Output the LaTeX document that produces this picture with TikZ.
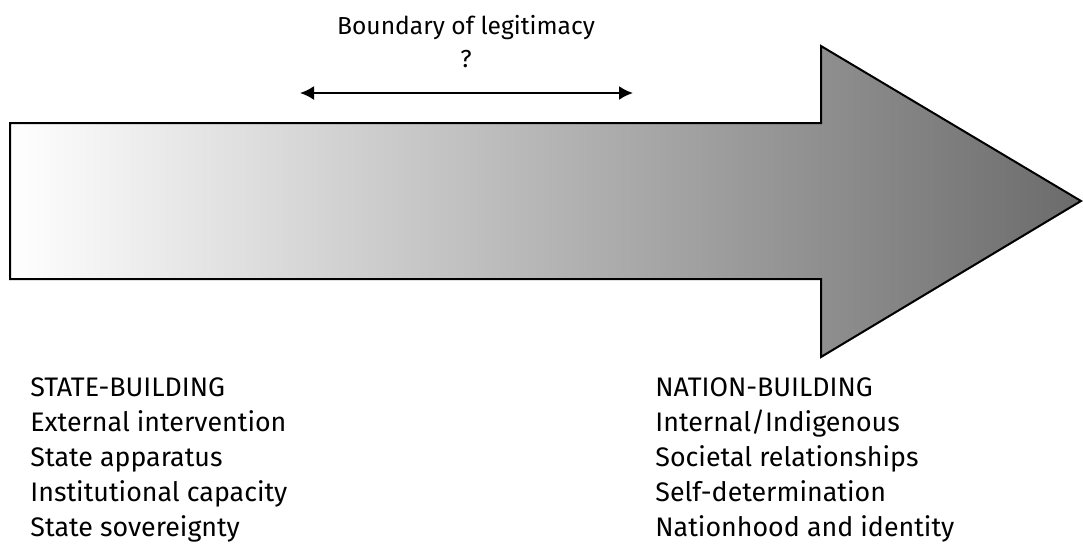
\documentclass[tikz,border=0pt]{standalone}
\usepackage{fontspec}
\setmainfont{Fira Sans}
\usetikzlibrary{arrows.meta, positioning}

\begin{document}
\begin{tikzpicture}[x=0.5pt, y=-0.5pt,
	label text/.style={inner sep=0pt, align=left,
		font=\fontsize{13.4}{17.6}\selectfont},
	top text/.style={inner sep=0pt,
		font=\fontsize{12.3}{15}\selectfont}]

\useasboundingbox (0,0) rectangle (1083,543);

% Add the big shaded arrow
\path[draw=black,
		line width=1pt,
		line join=miter,
		left color=white,
		right color=black!58]
	(10,123) -- (821,123) -- (821,46) -- (1081,201)
	-- (821,357) -- (821,279) -- (10,279) -- cycle;

% Add the boundary label and its arrow
\node[top text, anchor=base] (bound) at (466,34) {Boundary of legitimacy};
\node[top text, anchor=base] (qmark) at (466,67) {?};

\coordinate (bl) at (300,93);
\coordinate (br) at (633,93);
\draw[{Latex[length=7pt,width=7pt]}-{Latex[length=7pt,width=7pt]},
		line width=1pt] (bl) -- (br);

% Add the two lists
\node[label text, anchor=north west] (state) at (30,377)
	{STATE-BUILDING\\External intervention\\State apparatus\\Institutional capacity\\State sovereignty};

\node[label text, anchor=north west] (nation) at (655,377)
	{NATION-BUILDING\\Internal/Indigenous\\Societal relationships\\Self-determination\\Nationhood and identity};

\end{tikzpicture}
\end{document}
